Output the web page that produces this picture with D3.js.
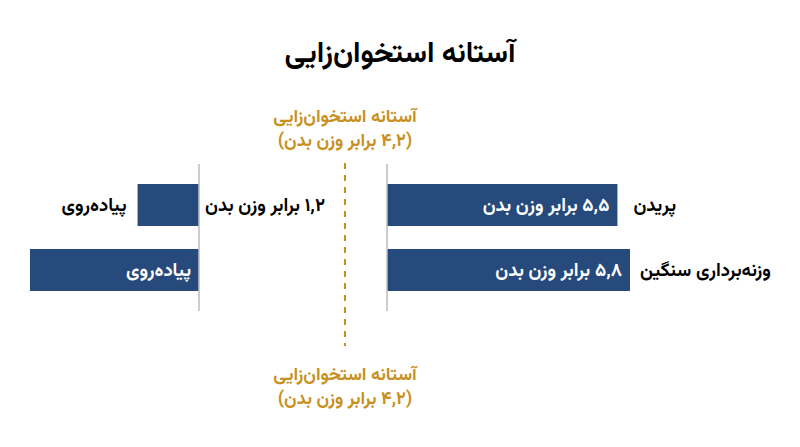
<!DOCTYPE html>
<html lang="fa">
<head>
<meta charset="utf-8">
<script src="https://cdn.jsdelivr.net/npm/d3@7"></script>
<style>
  body { margin: 0; background: #fff; }
  text { font-family: Vazirmatn, "DejaVu Sans", sans-serif; font-weight: bold; }
</style>
</head>
<body>
<div id="chart"></div>
<script>
const title = "آستانه استخوان\u200cزایی";
const thresholdLines = ["آستانه استخوان\u200cزایی", "(۴,۲ برابر وزن بدن)"];

const leftCategories = ["پیاده\u200cروی", "پیاده\u200cروی"];
const leftValues = [1.2, 3.3];
const leftValueLabels = ["۱,۲ برابر وزن بدن", ""];

const rightCategories = ["پریدن", "وزنه\u200cبرداری سنگین"];
const rightValues = [5.5, 5.8];
const rightValueLabels = ["۵,۵ برابر وزن بدن", "۵,۸ برابر وزن بدن"];

const W = 800, H = 447;
const barColor = "#264a7c";
const gold = "#c8901c";

// wrap in a right-to-left embedding so numbers sit where Persian readers expect
const rtl = s => s ? "\u202B" + s + "\u202C" : s;

const svg = d3.select("#chart").append("svg")
    .attr("width", W)
    .attr("height", H);

// title
svg.append("text")
    .attr("x", 400)
    .attr("y", 62)
    .attr("text-anchor", "middle")
    .attr("font-size", 29)
    .attr("fill", "#000")
    .text(rtl(title));

const y = d3.scaleBand().domain([0, 1]).range([184, 291]).paddingInner(0.354);
const leftX = d3.scaleLinear().domain([0, 3.3]).range([199, 30]);
const rightX = d3.scaleLinear().domain([0, 5.8]).range([387, 630]);

// left panel
const left = svg.append("g");
left.selectAll("rect").data(leftValues).join("rect")
    .attr("x", d => leftX(d))
    .attr("y", (d, i) => y(i))
    .attr("width", d => leftX(0) - leftX(d))
    .attr("height", y.bandwidth())
    .attr("fill", barColor);

// first row: category outside the short bar, second row inside
left.selectAll("text.cat").data(leftCategories).join("text")
    .attr("class", "cat")
    .attr("x", (d, i) => i === 0 ? leftX(leftValues[i]) - 11 : leftX(0) - 8)
    .attr("y", (d, i) => y(i) + y.bandwidth() / 2)
    .attr("dy", "0.35em")
    .attr("text-anchor", "end")
    .attr("font-size", 18.5)
    .attr("fill", (d, i) => i === 0 ? "#000" : "#fff")
    .text(d => rtl(d));

left.selectAll("text.val").data(leftValueLabels).join("text")
    .attr("class", "val")
    .attr("x", leftX(0) + 6)
    .attr("y", (d, i) => y(i) + y.bandwidth() / 2)
    .attr("dy", "0.35em")
    .attr("text-anchor", "start")
    .attr("font-size", 18.5)
    .attr("fill", "#000")
    .text(d => rtl(d));

// right panel
const right = svg.append("g");
right.selectAll("rect").data(rightValues).join("rect")
    .attr("x", rightX(0))
    .attr("y", (d, i) => y(i))
    .attr("width", d => rightX(d) - rightX(0))
    .attr("height", y.bandwidth())
    .attr("fill", barColor);

right.selectAll("text.val").data(rightValueLabels).join("text")
    .attr("class", "val")
    .attr("x", (d, i) => rightX(rightValues[i]) - 8)
    .attr("y", (d, i) => y(i) + y.bandwidth() / 2)
    .attr("dy", "0.35em")
    .attr("text-anchor", "end")
    .attr("font-size", 18.5)
    .attr("fill", "#fff")
    .text(d => rtl(d));

right.selectAll("text.cat").data(rightCategories).join("text")
    .attr("class", "cat")
    .attr("x", (d, i) => rightX(rightValues[i]) + (i === 0 ? 16 : 10))
    .attr("y", (d, i) => y(i) + y.bandwidth() / 2)
    .attr("dy", "0.35em")
    .attr("text-anchor", "start")
    .attr("font-size", 18.5)
    .attr("fill", "#000")
    .text(d => rtl(d));

// axis baselines
[leftX(0), rightX(0)].forEach(x0 => {
  svg.append("line")
      .attr("x1", x0).attr("x2", x0)
      .attr("y1", 164).attr("y2", 311)
      .attr("stroke", "#bdbdbd")
      .attr("stroke-width", 1.5);
});

// threshold dashed line
const tx = 345;
svg.append("line")
    .attr("x1", tx).attr("x2", tx)
    .attr("y1", 163).attr("y2", 346)
    .attr("stroke", gold)
    .attr("stroke-width", 2)
    .attr("stroke-dasharray", "6,6");

// threshold note, above and below the line (two lines each)
[122, 380].forEach(y0 => {
  const note = svg.append("text")
      .attr("y", y0)
      .attr("text-anchor", "middle")
      .attr("font-size", 18)
      .attr("fill", gold);
  note.selectAll("tspan").data(thresholdLines).join("tspan")
      .attr("x", tx)
      .attr("dy", (d, i) => i === 0 ? 0 : 24)
      .text(d => rtl(d));
});
</script>
</body>
</html>
